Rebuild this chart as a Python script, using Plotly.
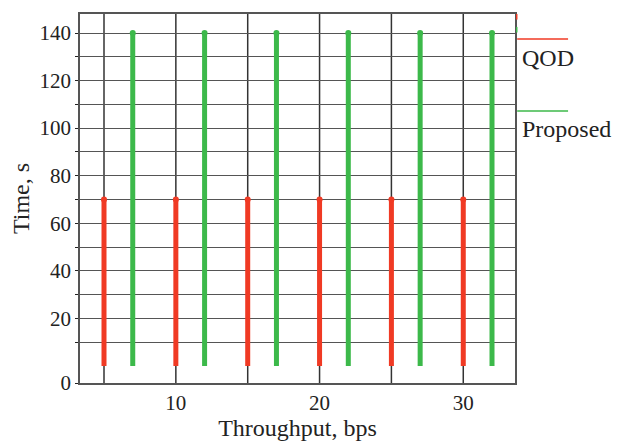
import plotly.graph_objects as go

# Data
qod_x = [5, 10, 15, 20, 25, 30]
qod_time = [70, 70, 70, 70, 70, 70]
prop_x = [7, 12, 17, 22, 27, 32]
prop_time = [140, 140, 140, 140, 140, 140]

x_tickvals = [10, 20, 30]
y_ticklabels = ["0", "", "20", "", "40", "", "60", "", "80", "", "100", "", "120", "", "140"]
y_tickpos = [-7.2] + list(range(10, 150, 10))

RED = "#f03a24"
GREEN = "#3cb94a"
FONT = "Liberation Serif"

def stems(xs, ys):
    X, Y = [], []
    for x, y in zip(xs, ys):
        X += [x, x, None]
        Y += [0, y, None]
    return X, Y

fig = go.Figure()
for xs, ys, col in [(qod_x, qod_time, RED), (prop_x, prop_time, GREEN)]:
    X, Y = stems(xs, ys)
    fig.add_trace(go.Scatter(x=X, y=Y, mode="lines", line=dict(color=col, width=5),
                             showlegend=False, hoverinfo="skip"))
    fig.add_trace(go.Scatter(x=xs, y=ys, mode="markers", marker=dict(color=col, size=6),
                             showlegend=False, hoverinfo="skip"))

fig.update_layout(
    width=625, height=446,
    margin=dict(l=72, r=118, t=6, b=71, autoexpand=False),
    paper_bgcolor="white", plot_bgcolor="white",
    font=dict(family=FONT, size=21, color="#222"),
    xaxis=dict(range=[3.33, 33.6], tickvals=x_tickvals, ticktext=[str(v) for v in x_tickvals],
               showgrid=False, zeroline=False, showline=True, linecolor="#555", linewidth=1.5,
               mirror=True, ticks="", tickfont=dict(size=21, family=FONT),
               title=dict(text="Throughput, bps", font=dict(size=24, family=FONT), standoff=4)),
    yaxis=dict(range=[-7.2, 148], tickvals=y_tickpos, ticktext=y_ticklabels,
               showgrid=True, gridcolor="#555", gridwidth=1.3, zeroline=False,
               showline=True, linecolor="#555", linewidth=1.5, mirror=True,
               ticks="outside", ticklen=3, tickcolor="#222",
               tickfont=dict(size=21, family=FONT),
               title=dict(text="Time, s", font=dict(size=24, family=FONT), standoff=10)),
)

# vertical grid lines at every 5
for gx in [5, 10, 15, 20, 25, 30]:
    fig.add_shape(type="line", xref="x", yref="paper", x0=gx, x1=gx, y0=0, y1=1,
                  line=dict(color="#333", width=1.5), layer="below")

# custom legend on right
fig.add_shape(type="line", xref="paper", yref="paper", x0=1.005, x1=1.122, y0=0.932, y1=0.932,
              line=dict(color=RED, width=1.5))
fig.add_annotation(xref="paper", yref="paper", x=1.012, y=0.881, text="QOD", showarrow=False,
                   xanchor="left", yanchor="middle", font=dict(size=24, family=FONT, color="#222"))
fig.add_shape(type="line", xref="paper", yref="paper", x0=1.005, x1=1.122, y0=0.737, y1=0.737,
              line=dict(color=GREEN, width=1.5))
fig.add_annotation(xref="paper", yref="paper", x=1.012, y=0.688, text="Proposed", showarrow=False,
                   xanchor="left", yanchor="middle", font=dict(size=24, family=FONT, color="#222"))

# small corner marks near top-right
fig.add_shape(type="line", xref="paper", yref="paper", x0=1.004, x1=1.004, y0=1.0, y1=0.985,
              line=dict(color=RED, width=1.5))
fig.add_shape(type="line", xref="paper", yref="paper", x0=1.004, x1=1.004, y0=0.965, y1=0.95,
              line=dict(color=GREEN, width=1.5))

fig.write_html("out.html")
